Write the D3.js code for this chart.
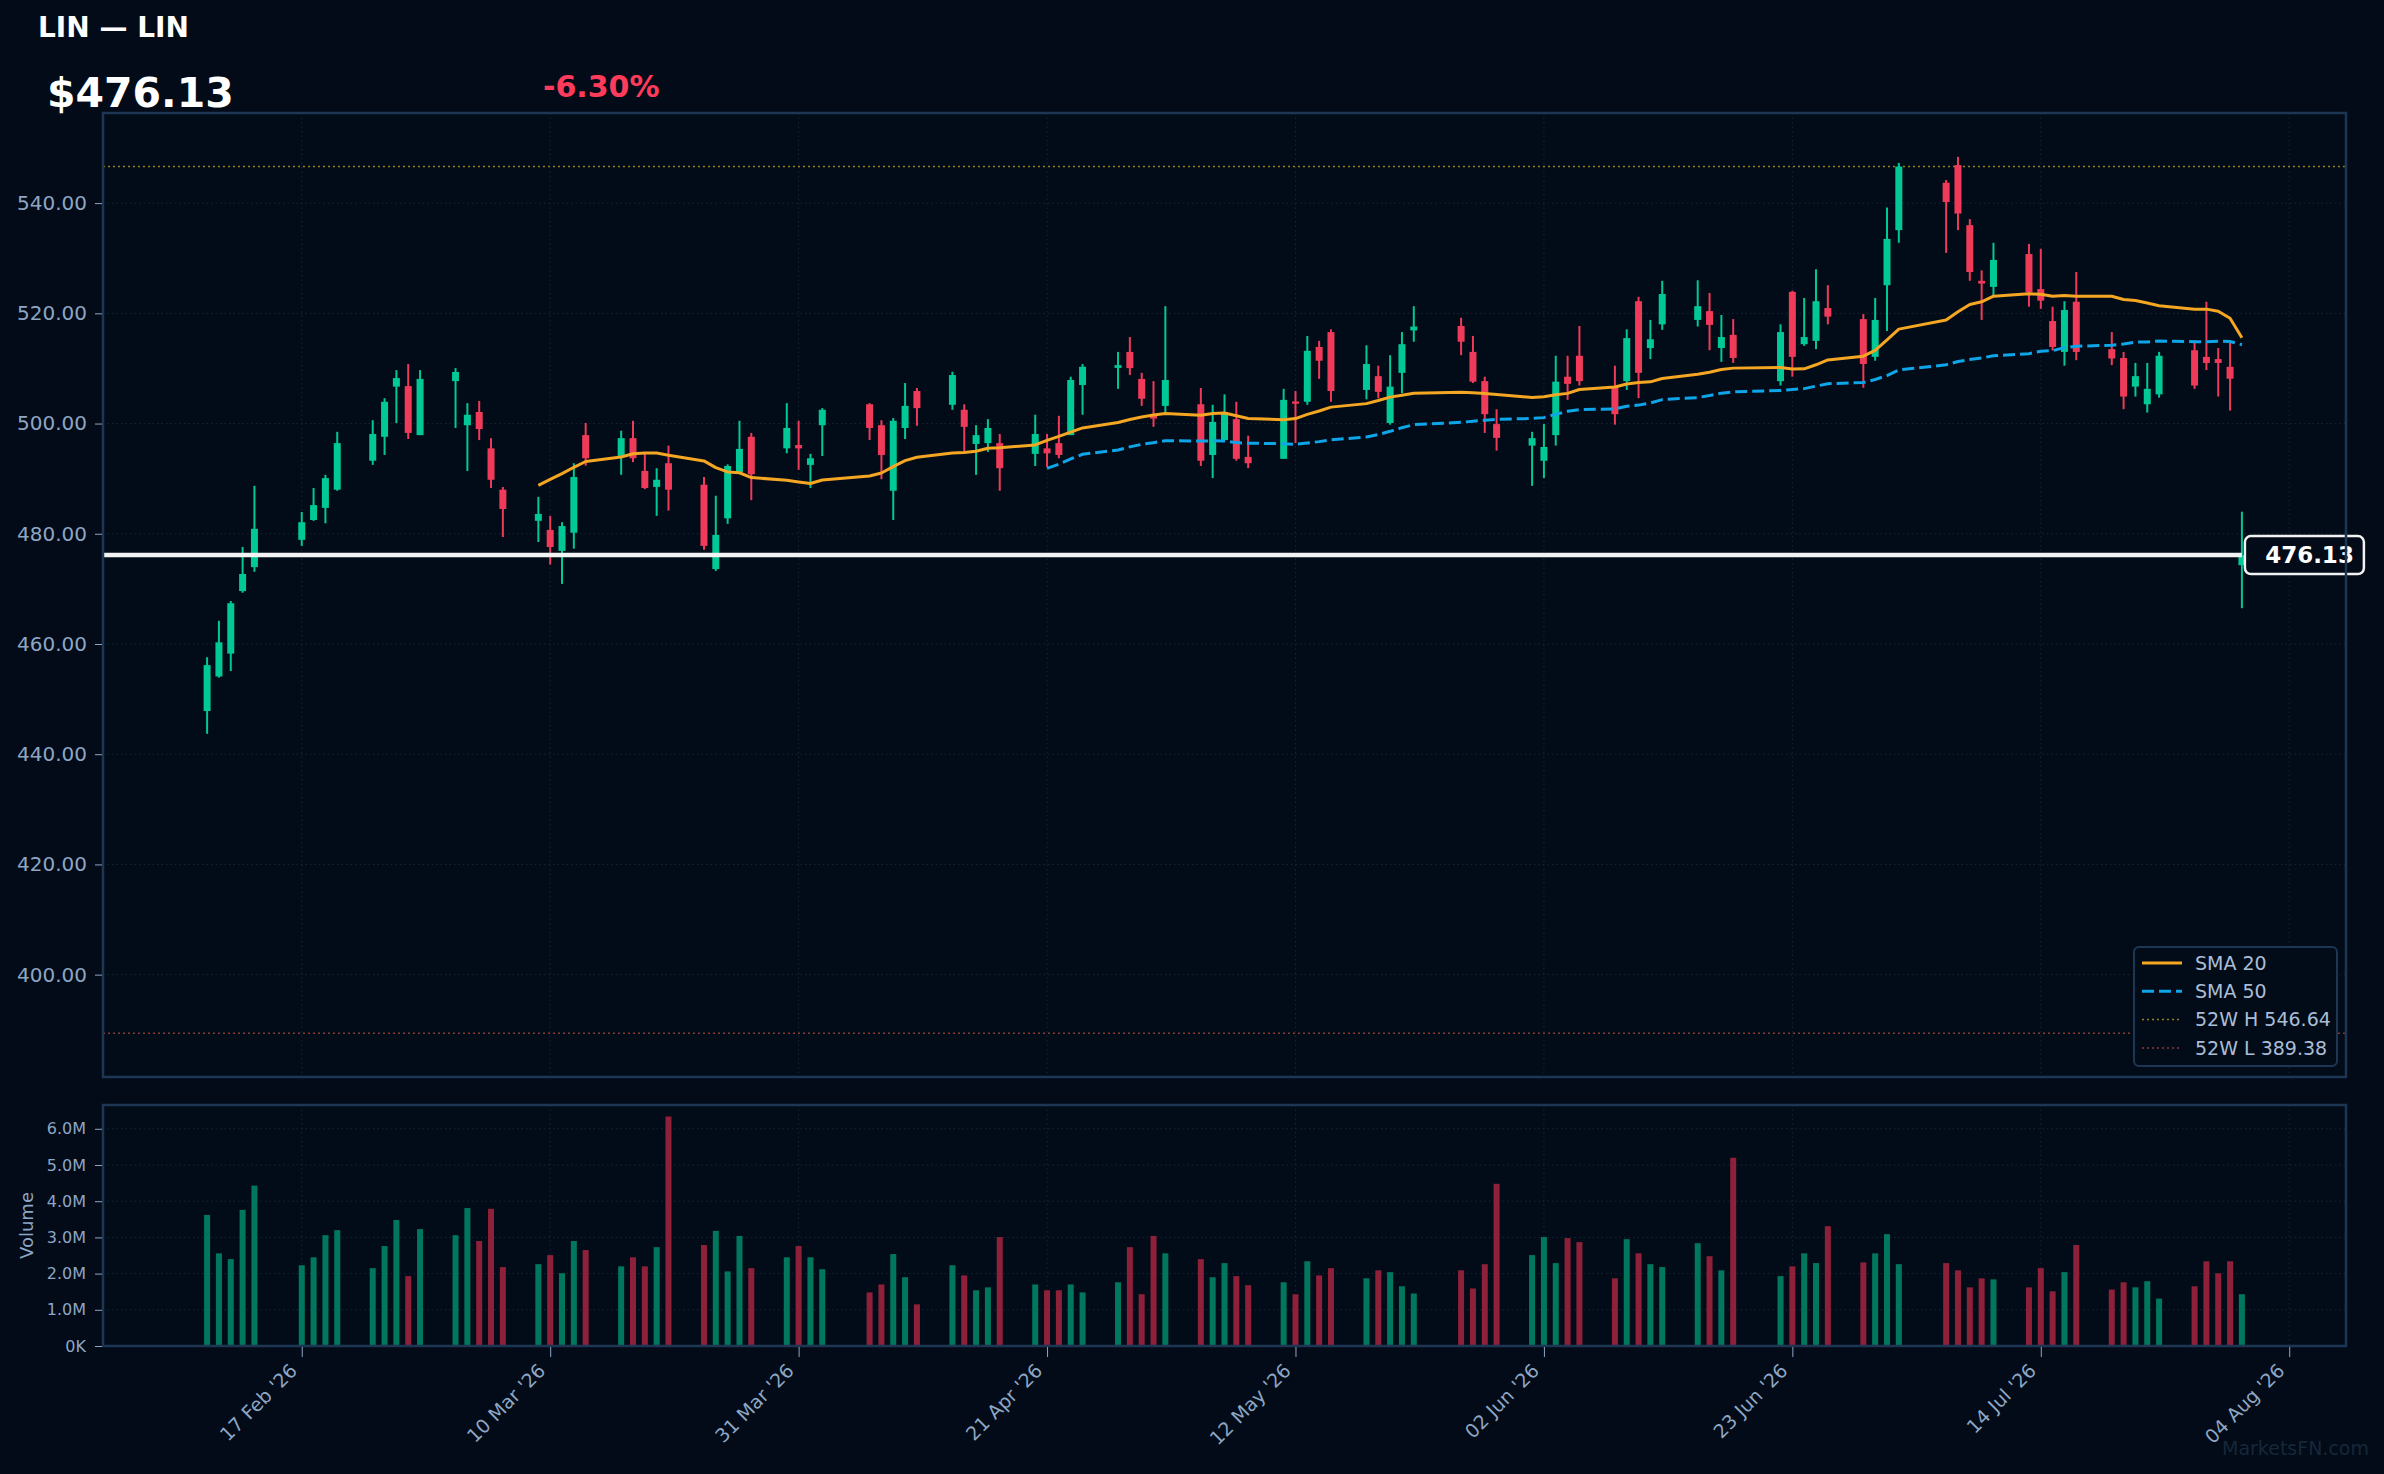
<!DOCTYPE html>
<html lang="en">
<head>
<meta charset="UTF-8">
<title>LIN — LIN</title>
<script src="https://cdnjs.cloudflare.com/ajax/libs/d3/7.8.5/d3.min.js"></script>
<style>
  html, body { margin: 0; padding: 0; background: #020b17; }
  svg { display: block; font-family: "DejaVu Sans", sans-serif; }
</style>
</head>
<body>
<svg id="chart" width="2384" height="1474"></svg>
<script>
// daily bars
var dates = ["2026-02-09","2026-02-10","2026-02-11","2026-02-12","2026-02-13",
  "2026-02-17","2026-02-18","2026-02-19","2026-02-20",
  "2026-02-23","2026-02-24","2026-02-25","2026-02-26","2026-02-27",
  "2026-03-02","2026-03-03","2026-03-04","2026-03-05","2026-03-06",
  "2026-03-09","2026-03-10","2026-03-11","2026-03-12","2026-03-13",
  "2026-03-16","2026-03-17","2026-03-18","2026-03-19","2026-03-20",
  "2026-03-23","2026-03-24","2026-03-25","2026-03-26","2026-03-27",
  "2026-03-30","2026-03-31","2026-04-01","2026-04-02",
  "2026-04-06","2026-04-07","2026-04-08","2026-04-09","2026-04-10",
  "2026-04-13","2026-04-14","2026-04-15","2026-04-16","2026-04-17",
  "2026-04-20","2026-04-21","2026-04-22","2026-04-23","2026-04-24",
  "2026-04-27","2026-04-28","2026-04-29","2026-04-30","2026-05-01",
  "2026-05-04","2026-05-05","2026-05-06","2026-05-07","2026-05-08",
  "2026-05-11","2026-05-12","2026-05-13","2026-05-14","2026-05-15",
  "2026-05-18","2026-05-19","2026-05-20","2026-05-21","2026-05-22",
  "2026-05-26","2026-05-27","2026-05-28","2026-05-29",
  "2026-06-01","2026-06-02","2026-06-03","2026-06-04","2026-06-05",
  "2026-06-08","2026-06-09","2026-06-10","2026-06-11","2026-06-12",
  "2026-06-15","2026-06-16","2026-06-17","2026-06-18",
  "2026-06-22","2026-06-23","2026-06-24","2026-06-25","2026-06-26",
  "2026-06-29","2026-06-30","2026-07-01","2026-07-02",
  "2026-07-06","2026-07-07","2026-07-08","2026-07-09","2026-07-10",
  "2026-07-13","2026-07-14","2026-07-15","2026-07-16","2026-07-17",
  "2026-07-20","2026-07-21","2026-07-22","2026-07-23","2026-07-24",
  "2026-07-27","2026-07-28","2026-07-29","2026-07-30","2026-07-31"];

var opens = [447.84,454.1,458.25,469.6,473.95, 478.9,482.5,484.7,488.0,
  493.25,497.6,506.7,506.8,497.9, 507.7,499.7,502.1,495.5,488.0,
  482.35,480.7,476.9,480.2,497.9, 494.0,497.35,491.4,488.5,492.8,
  488.9,473.6,482.8,491.2,497.6, 495.5,496.1,492.5,499.7,
  503.5,499.7,487.8,499.2,505.9, 503.4,502.5,496.3,496.45,496.45,
  494.5,495.5,496.45,497.9,507.0, 510.1,513.0,508.1,501.4,503.2,
  503.5,494.3,497.0,500.8,493.95, 493.6,504.0,503.95,513.9,516.6,
  506.1,508.6,500.1,509.2,516.9, 517.7,513.0,507.7,499.9,
  496.0,493.25,497.9,508.5,512.3, 506.7,507.7,522.2,513.7,518.0,
  518.8,520.4,513.7,516.1, 507.7,523.9,514.4,515.0,520.96,
  518.95,512.1,525.1,535.1, 543.7,546.9,536.0,525.9,524.8,
  530.75,524.4,518.6,513.0,522.1, 513.5,511.9,506.7,503.5,505.3,
  513.3,512.1,511.7,510.3,474.3];

var highs = [457.6,464.2,467.8,477.6,488.7, 483.95,488.3,490.7,498.5,
  500.6,504.6,509.7,510.8,509.7, 510.06,503.7,504.1,497.35,488.5,
  486.7,483.25,482.1,492.8,500.1, 498.7,500.5,494.5,491.9,496.0,
  490.3,486.9,492.6,500.5,498.3, 503.7,500.5,494.5,502.8,
  503.7,500.6,501.0,507.35,506.45, 509.4,503.5,499.7,500.8,498.1,
  501.6,498.1,501.4,508.5,510.8, 513.0,515.7,509.2,507.7,521.3,
  506.45,503.4,505.3,503.95,497.8, 506.3,505.9,515.9,515.0,517.1,
  514.2,510.5,512.4,516.6,521.3, 519.2,515.9,508.5,502.6,
  498.5,499.9,512.3,512.3,517.7, 510.5,517.1,523.0,518.8,525.9,
  526.0,523.7,519.7,518.95, 518.0,524.1,522.8,528.0,525.1,
  519.85,522.8,539.2,547.3, 544.2,548.4,537.1,527.8,532.8,
  532.6,531.7,521.2,522.2,527.5, 516.6,513.0,511.0,511.0,513.0,
  515.1,522.1,513.7,515.0,484.0];

var lows = [443.7,453.9,455.1,469.3,473.1, 477.8,482.35,481.9,487.8,
  492.5,494.3,500.1,497.2,497.9, 499.2,491.4,497.0,488.3,479.4,
  478.5,474.4,470.9,477.3,492.35, 490.7,493.0,488.1,483.25,484.2,
  477.1,473.25,481.8,491.2,486.1, 494.6,491.6,488.3,494.1,
  497.0,489.9,482.5,497.2,499.6, 502.5,494.85,490.7,494.85,487.8,
  492.3,492.1,493.7,497.9,501.6, 506.3,508.8,503.2,499.4,502.1,
  492.3,490.1,497.0,493.25,491.9, 493.6,496.45,503.4,508.1,503.95,
  504.4,504.6,499.8,505.5,514.85, 512.4,507.35,498.3,495.1,
  488.7,490.1,496.0,504.3,506.9, 499.8,506.1,504.6,511.7,517.0,
  517.6,513.3,511.2,511.0, 506.9,508.5,514.1,513.5,518.0,
  506.5,511.4,516.8,532.8, 530.96,535.1,525.9,518.8,523.3,
  521.2,520.8,513.25,510.5,511.5, 510.6,502.6,504.9,502.0,504.7,
  506.3,509.7,504.9,502.35,466.5];

var closes = [456.17,460.3,467.4,472.7,480.9, 482.1,485.2,490.1,496.45,
  498.1,503.95,508.25,498.3,508.1, 509.36,501.6,499.0,489.8,484.5,
  483.6,477.6,481.4,490.3,493.7, 497.35,493.7,488.3,489.8,488.0,
  477.8,479.8,492.3,495.4,490.8, 499.2,495.5,493.7,502.5,
  499.2,494.3,500.5,503.2,502.8, 508.8,499.4,497.9,499.2,491.9,
  498.1,494.6,494.3,507.9,510.3, 510.6,510.06,504.5,500.9,507.9,
  493.25,500.3,502.1,493.6,492.8, 504.3,503.6,513.2,511.4,505.9,
  510.8,505.75,506.7,514.4,517.6, 514.85,507.6,501.7,497.4,
  497.35,495.75,507.6,507.2,507.7, 501.7,515.5,509.2,515.3,523.5,
  521.3,517.9,515.7,511.9, 516.6,512.1,515.7,522.2,519.4,
  510.8,518.8,533.5,546.64, 540.2,538.1,527.5,525.4,529.7,
  523.8,522.3,513.9,520.6,513.0, 511.8,504.9,508.6,506.3,512.3,
  506.9,511.0,511.0,508.13,476.13];

// volume in millions
var volumes = [3.62,2.56,2.40,3.76,4.43, 2.23,2.45,3.06,3.20,
  2.15,2.76,3.48,1.93,3.23, 3.06,3.81,2.90,3.79,2.18,
  2.26,2.51,2.01,2.90,2.65, 2.20,2.45,2.20,2.73,6.34,
  2.79,3.18,2.06,3.04,2.15, 2.45,2.76,2.45,2.12,
  1.48,1.70,2.54,1.90,1.15, 2.23,1.95,1.54,1.62,3.01,
  1.70,1.54,1.54,1.70,1.48, 1.76,2.73,1.43,3.04,2.56,
  2.40,1.90,2.29,1.93,1.68, 1.76,1.43,2.34,1.95,2.15,
  1.87,2.09,2.04,1.65,1.45, 2.09,1.59,2.26,4.48,
  2.51,3.01,2.29,2.98,2.87, 1.87,2.95,2.56,2.26,2.18,
  2.84,2.48,2.09,5.20, 1.93,2.20,2.56,2.29,3.31,
  2.31,2.56,3.09,2.26, 2.29,2.09,1.62,1.87,1.84,
  1.62,2.15,1.51,2.04,2.79, 1.56,1.76,1.62,1.79,1.31,
  1.65,2.34,2.01,2.34,1.43];

var xTickDates = ["2026-02-17","2026-03-10","2026-03-31","2026-04-21","2026-05-12",
  "2026-06-02","2026-06-23","2026-07-14","2026-08-04"];
var priceTicks = [400, 420, 440, 460, 480, 500, 520, 540];
var volTicks = [0, 1, 2, 3, 4, 5, 6];

var high52 = 546.64, low52 = 389.38;
var lastPrice = 476.13, changePct = -6.30;
var ticker = "LIN", name = "LIN";

// colours
var UP = "#00c896", DOWN = "#f03a5a";
var UP_VOL = "#01785e", DOWN_VOL = "#8e2139";
var GRID = "#16263a", FRAME = "#1d3654", TXT = "#8ea6c4";

var parse = d3.timeParse("%Y-%m-%d");
var bars = dates.map(function(d, i) {
  return { date: parse(d), o: opens[i], h: highs[i], l: lows[i], c: closes[i], v: volumes[i] * 1e6 };
});

function sma(n) {
  var out = [];
  for (var i = n - 1; i < bars.length; i++) {
    out.push({ date: bars[i].date, v: d3.mean(closes.slice(i - n + 1, i + 1)) });
  }
  return out;
}

var svg = d3.select("#chart");
var P = { left: 103, right: 2346, top: 113, bottom: 1077 };
var V = { top: 1105, bottom: 1346 };

svg.append("rect").attr("width", 2384).attr("height", 1474).attr("fill", "#020b17");

// scales
var d0 = bars[0].date, d1 = bars[bars.length - 1].date;
var pad = 8.8 * 864e5;
var x = d3.scaleTime().domain([new Date(+d0 - pad), new Date(+d1 + pad)]).range([P.left, P.right]);

var lo = Math.min(low52, d3.min(lows)), hi = Math.max(high52, d3.max(highs));
var m = (hi - lo) * 0.05;
var y = d3.scaleLinear().domain([lo - m, hi + m]).range([P.bottom, P.top]);

var yv = d3.scaleLinear().domain([0, d3.max(bars, function(b) { return b.v; }) * 1.05]).range([V.bottom, V.top]);

var xTicks = xTickDates.map(parse);

// panel backgrounds
svg.append("rect").attr("x", P.left).attr("y", P.top).attr("width", P.right - P.left).attr("height", P.bottom - P.top).attr("fill", "#020c18");
svg.append("rect").attr("x", P.left).attr("y", V.top).attr("width", P.right - P.left).attr("height", V.bottom - V.top).attr("fill", "#020c18");

// grid
var grid = svg.append("g").attr("stroke", GRID).attr("stroke-width", 1).attr("stroke-dasharray", "1.5,3");
grid.selectAll(".gy").data(priceTicks).enter().append("line")
  .attr("x1", P.left).attr("x2", P.right).attr("y1", function(d) { return y(d); }).attr("y2", function(d) { return y(d); });
grid.selectAll(".gx").data(xTicks).enter().append("line")
  .attr("y1", P.top).attr("y2", P.bottom).attr("x1", function(d) { return x(d); }).attr("x2", function(d) { return x(d); });
grid.selectAll(".gvy").data(volTicks).enter().append("line")
  .attr("x1", P.left).attr("x2", P.right).attr("y1", function(d) { return yv(d * 1e6); }).attr("y2", function(d) { return yv(d * 1e6); });
grid.selectAll(".gvx").data(xTicks).enter().append("line")
  .attr("y1", V.top).attr("y2", V.bottom).attr("x1", function(d) { return x(d); }).attr("x2", function(d) { return x(d); });

// 52 week lines
svg.append("line").attr("x1", P.left).attr("x2", P.right).attr("y1", y(high52)).attr("y2", y(high52))
  .attr("stroke", "#94801c").attr("stroke-width", 1.5).attr("stroke-dasharray", "2,3");
svg.append("line").attr("x1", P.left).attr("x2", P.right).attr("y1", y(low52)).attr("y2", y(low52))
  .attr("stroke", "#8c3a30").attr("stroke-width", 1.5).attr("stroke-dasharray", "2,3");

// candles
var candles = svg.append("g").selectAll("g").data(bars).enter().append("g");
candles.append("line")
  .attr("x1", function(d) { return x(d.date); }).attr("x2", function(d) { return x(d.date); })
  .attr("y1", function(d) { return y(d.h); }).attr("y2", function(d) { return y(d.l); })
  .attr("stroke", function(d) { return d.c >= d.o ? UP : DOWN; }).attr("stroke-width", 2);
candles.append("rect")
  .attr("x", function(d) { return x(d.date) - 3.5; }).attr("width", 7)
  .attr("y", function(d) { return y(Math.max(d.o, d.c)); })
  .attr("height", function(d) { return Math.max(1.5, Math.abs(y(d.o) - y(d.c))); })
  .attr("fill", function(d) { return d.c >= d.o ? UP : DOWN; });

// moving averages
var line = d3.line().x(function(d) { return x(d.date); }).y(function(d) { return y(d.v); });
svg.append("path").datum(sma(20)).attr("d", line).attr("fill", "none")
  .attr("stroke", "#f5a623").attr("stroke-width", 3).attr("stroke-linejoin", "round");
svg.append("path").datum(sma(50)).attr("d", line).attr("fill", "none")
  .attr("stroke", "#0ea5e9").attr("stroke-width", 3).attr("stroke-dasharray", "12,5");

// last price line + tag
svg.append("line").attr("x1", P.left).attr("x2", x(d1)).attr("y1", y(lastPrice)).attr("y2", y(lastPrice))
  .attr("stroke", "#f2f2f2").attr("stroke-width", 4.5);
svg.append("rect").attr("x", x(d1) + 3).attr("y", y(lastPrice) - 19).attr("width", 119).attr("height", 38)
  .attr("rx", 6).attr("fill", "#020b17").attr("stroke", "#f2f2f2").attr("stroke-width", 2.5);
svg.append("text").attr("x", x(d1) + 112).attr("y", y(lastPrice)).attr("dy", "0.36em")
  .attr("text-anchor", "end").attr("fill", "#ffffff").attr("font-size", 23).attr("font-weight", "bold")
  .text(lastPrice.toFixed(2));

// volume bars
svg.append("g").selectAll("rect").data(bars).enter().append("rect")
  .attr("x", function(d) { return x(d.date) - 3; }).attr("width", 6)
  .attr("y", function(d) { return yv(d.v); })
  .attr("height", function(d) { return V.bottom - yv(d.v); })
  .attr("fill", function(d) { return d.c >= d.o ? UP_VOL : DOWN_VOL; });

// frames
svg.append("rect").attr("x", P.left).attr("y", P.top).attr("width", P.right - P.left).attr("height", P.bottom - P.top)
  .attr("fill", "none").attr("stroke", FRAME).attr("stroke-width", 2.5);
svg.append("rect").attr("x", P.left).attr("y", V.top).attr("width", P.right - P.left).attr("height", V.bottom - V.top)
  .attr("fill", "none").attr("stroke", FRAME).attr("stroke-width", 2.5);

// axes
function styleAxis(g, size) {
  g.select(".domain").remove();
  g.selectAll(".tick line").attr("stroke", TXT);
  g.selectAll(".tick text").attr("fill", TXT).attr("font-size", size).attr("font-family", "DejaVu Sans");
}
svg.append("g").attr("transform", "translate(" + (P.left - 1) + ",0)")
  .call(d3.axisLeft(y).tickValues(priceTicks).tickFormat(d3.format(".2f")).tickSize(7).tickPadding(8))
  .call(styleAxis, 20);
svg.append("g").attr("transform", "translate(" + (P.left - 1) + ",0)")
  .call(d3.axisLeft(yv).tickValues(volTicks.map(function(d) { return d * 1e6; }))
    .tickFormat(function(d) { return d === 0 ? "0K" : (d / 1e6).toFixed(1) + "M"; }).tickSize(7).tickPadding(9))
  .call(styleAxis, 16);
var xa = svg.append("g").attr("transform", "translate(0," + (V.bottom + 1) + ")")
  .call(d3.axisBottom(x).tickValues(xTicks).tickFormat(d3.timeFormat("%d %b '%y")).tickSize(10))
  .call(styleAxis, 19);
xa.selectAll(".tick text").attr("text-anchor", "end").attr("y", 0).attr("dy", 0)
  .attr("transform", "translate(-4,25) rotate(-45)");

svg.append("text").attr("transform", "translate(33," + ((V.top + V.bottom) / 2) + ") rotate(-90)")
  .attr("text-anchor", "middle").attr("fill", TXT).attr("font-size", 18).text("Volume");

// header
svg.append("text").attr("x", 38).attr("y", 37).attr("fill", "#ffffff").attr("font-size", 28).attr("font-weight", "bold")
  .text(ticker + " \u2014 " + name);
svg.append("text").attr("x", 47).attr("y", 107).attr("fill", "#ffffff").attr("font-size", 41).attr("font-weight", "bold")
  .text("$" + lastPrice.toFixed(2));
svg.append("text").attr("x", 543).attr("y", 97).attr("fill", "#ff3b5c").attr("font-size", 30).attr("font-weight", "bold")
  .text(changePct.toFixed(2) + "%");

// legend
var legend = svg.append("g");
legend.append("rect").attr("x", 2134).attr("y", 947).attr("width", 203).attr("height", 119).attr("rx", 5)
  .attr("fill", "#020c18").attr("stroke", FRAME).attr("stroke-width", 2);
var items = [
  { label: "SMA 20", color: "#f5a623", dash: null, w: 3 },
  { label: "SMA 50", color: "#0ea5e9", dash: "12,5", w: 3 },
  { label: "52W H " + high52.toFixed(2), color: "#94801c", dash: "2,3", w: 1.5 },
  { label: "52W L " + low52.toFixed(2), color: "#8c3a30", dash: "2,3", w: 1.5 }
];
items.forEach(function(it, i) {
  var yy = 963 + i * 28.3;
  legend.append("line").attr("x1", 2142).attr("x2", 2182).attr("y1", yy).attr("y2", yy)
    .attr("stroke", it.color).attr("stroke-width", it.w).attr("stroke-dasharray", it.dash);
  legend.append("text").attr("x", 2195).attr("y", yy).attr("dy", "0.36em")
    .attr("fill", "#a9bdd6").attr("font-size", 19).text(it.label);
});

// watermark
svg.append("text").attr("x", 2369).attr("y", 1455).attr("text-anchor", "end")
  .attr("fill", "#16273a").attr("font-size", 19).text("MarketsFN.com");
</script>
</body>
</html>
